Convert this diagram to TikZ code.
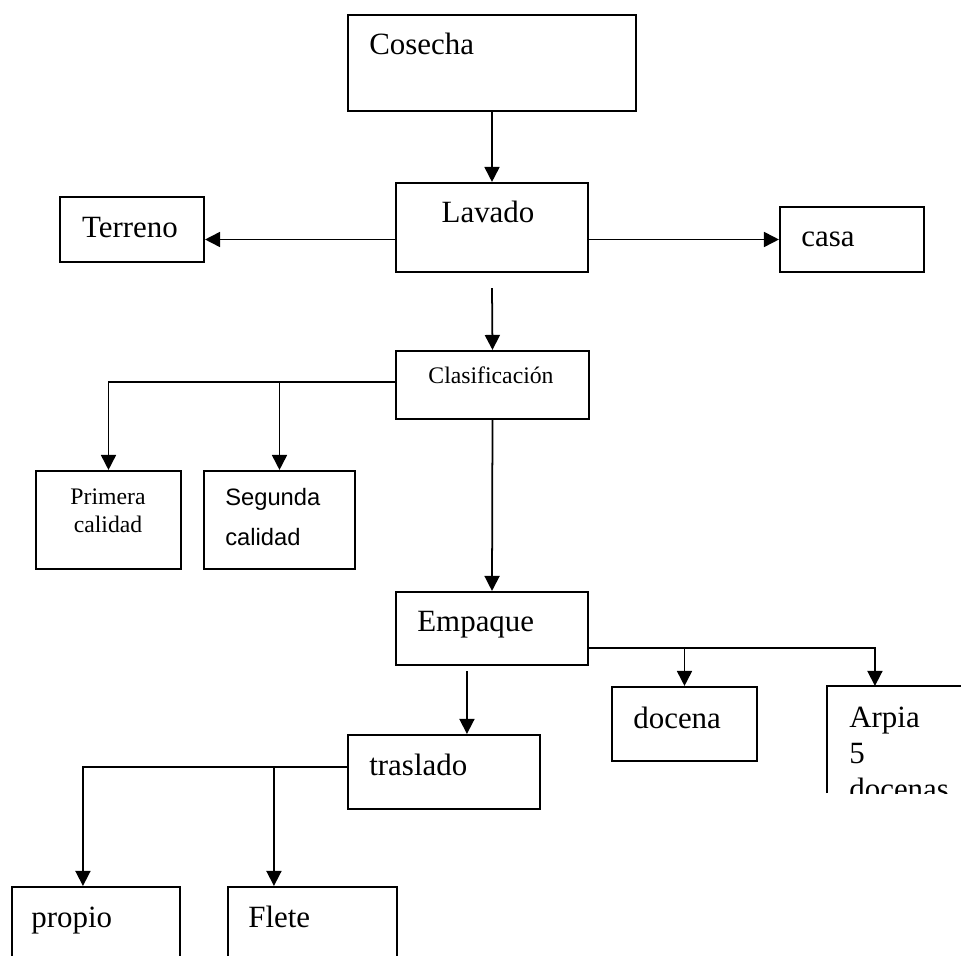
\documentclass[tikz,border=0pt]{standalone}
\usepackage{fontspec}
\setmainfont{Liberation Serif}
\newfontfamily\arialfont{Liberation Sans}
\usetikzlibrary{arrows.meta,calc}

\tikzset{
  caja/.style={draw,line width=1.2pt,inner sep=0pt,fill=white},
  flecha/.style={-{Triangle[length=0.3cm,width=0.3cm]},line width=1pt},
  grande/.style={font=\fontsize{17.6}{21}\selectfont,inner sep=0pt},
  chica/.style={font=\fontsize{13.5}{16}\selectfont,inner sep=0pt},
  chicasans/.style={font=\arialfont\fontsize{13.5}{16}\selectfont,inner sep=0pt}
}

\begin{document}
\begin{tikzpicture}[x=0.02cm,y=-0.02cm]
\useasboundingbox (0,0) rectangle (961,956);
\clip (0,0) rectangle (961,956);
% cajas: nombre/izq/arriba/der/abajo (en pixeles)
\foreach \n/\l/\t/\r/\b in {cosecha/348/15/636/111, lavado/396/183/588/272,
	terreno/60/197/204/262, casa/780/207/924/272, clasif/396/351/589/419,
	primera/36/471/181/569, segunda/204/471/355/569, empaque/396/592/588/665,
	docena/612/687/757/761, traslado/348/735/540/809,
	propio/12/887/180/1000, flete/228/887/397/1000} {
	\node[caja,minimum width={(\r-\l)*0.02cm},minimum height={(\b-\t)*0.02cm}] (\n) at ({(\l+\r)/2},{(\t+\b)/2}) {};
}
% Arpia: caja cortada abajo y a la derecha
\node[caja,draw=none,minimum width={172*0.02cm},minimum height={105*0.02cm}] (arpia) at (914,739.5) {};
\draw[line width=1.2pt] (arpia.south west) -- (arpia.north west) -- (arpia.north east);
% textos
\node[grande,anchor=base west] (cosecha-t) at (369,55) {Cosecha};
\node[grande,anchor=base] (lavado-t) at (488,223) {Lavado};
\node[grande,anchor=base] (terreno-t) at (130,238) {Terreno};
\node[grande,anchor=base west] (casa-t) at (801,247) {casa};
\node[chica,anchor=base] (clasif-t) at (491,384) {Clasificación};
\node[chica,anchor=base] (primera-t) at (108,504) {Primera};
\node[chica,anchor=base] (primera-t2) at (108,532) {calidad};
\node[chicasans,anchor=base west] (segunda-t) at (225,505) {Segunda};
\node[chicasans,anchor=base west] (segunda-t2) at (225,545) {calidad};
\node[grande,anchor=base west] (empaque-t) at (417,631) {Empaque};
\node[grande,anchor=base west] (docena-t) at (633,728) {docena};
\node[grande,anchor=base west] (traslado-t) at (369,775) {traslado};
\node[grande,anchor=base west] (propio-t) at (31,927) {propio};
\node[grande,anchor=base west] (flete-t) at (248,927) {Flete};
% el texto de Arpia queda cortado por su caja
\begin{scope}
	\clip (arpia.north west) rectangle (arpia.south east);
	\node[grande,anchor=base west] (arpia-t) at (849,727) {Arpia};
	\node[grande,anchor=base west] (arpia-t2) at (849,763) {5};
	\node[grande,anchor=base west] (arpia-t3) at (849,799) {docenas};
\end{scope}
% flechas
\draw[flecha] (cosecha.south) -- (lavado.north);
\draw[flecha] (lavado.west |- casa.west) -- (terreno.east |- casa.west);
\draw[flecha] (lavado.east |- casa.west) -- (casa.west);
\draw[flecha] ($(lavado.south)+(0,15)$) -- (clasif.north);
\draw[flecha] ($(clasif.west)+(0,-3)$) coordinate (cw) -| (primera.north);
\draw[flecha] (segunda.north |- cw) -- (segunda.north);
\draw[flecha] (clasif.south) -- (empaque.north);
\draw[flecha] ($(empaque.south east)+(0,-18)$) coordinate (ew) -| ($(arpia.north west)+(48,0)$);
\draw[flecha] (docena.north |- ew) -- (docena.north);
\draw[flecha] ($(empaque.south west)+(72,5)$) coordinate (es) -- (es |- traslado.north);
\draw[flecha] ($(traslado.west)+(0,-5)$) coordinate (tw) -| ($(propio.north west)+(72,0)$);
\draw[flecha] ($(flete.north west)+(47,0)$) coordinate (fn) (fn |- tw) -- (fn);
\end{tikzpicture}
\end{document}
